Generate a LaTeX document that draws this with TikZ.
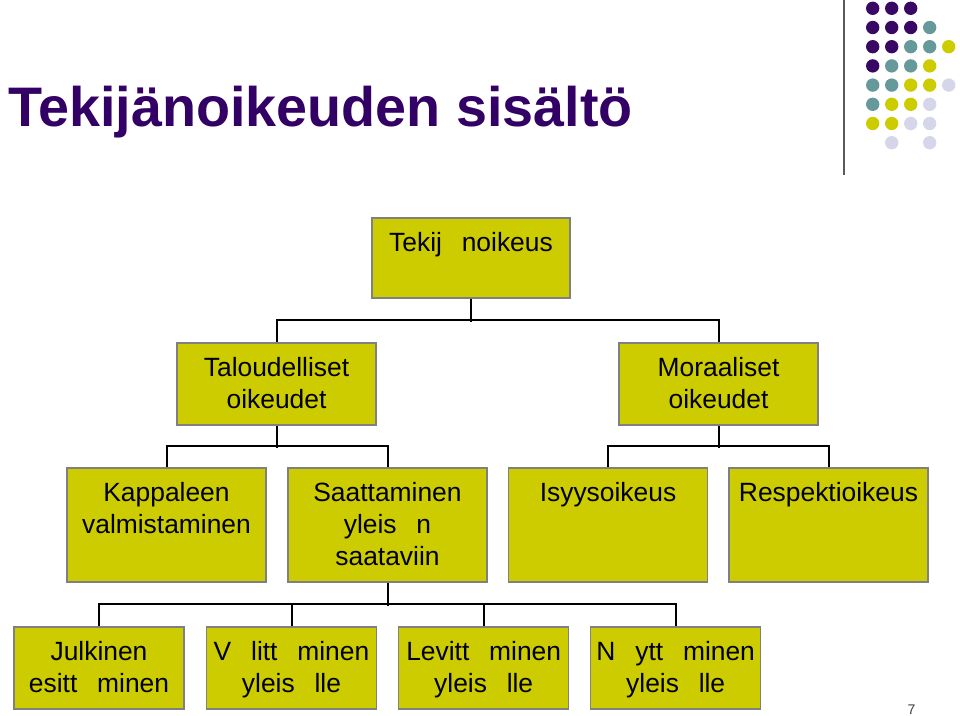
\documentclass[tikz,border=0pt]{standalone}
\usepackage{fontspec}
\setmainfont{Liberation Sans}
\definecolor{boxyellow}{RGB}{204,204,0}
\definecolor{bordergray}{RGB}{128,128,128}
\definecolor{titlepurple}{RGB}{51,0,102}
\definecolor{dotpurple}{RGB}{56,8,100}
\definecolor{dotteal}{RGB}{102,153,153}
\definecolor{dotyellow}{RGB}{204,204,0}
\definecolor{dotlav}{RGB}{214,214,234}
\definecolor{rulegray}{RGB}{90,90,90}
\definecolor{pagegray}{RGB}{64,64,64}
\newcommand{\mystrut}{\rule{0pt}{15pt}}
\newcommand{\gp}{\hspace{0.75em}}
\begin{document}
\begin{tikzpicture}[x=0.75pt,y=-0.75pt,
  box/.style={draw=bordergray, fill=boxyellow, line width=1.1pt, inner sep=0pt,
              minimum width=149.25pt, minimum height=61.5pt},
  tallbox/.style={box, minimum height=85.5pt},
  smallbox/.style={box, minimum width=127.5pt},
  topbox/.style={box, minimum width=148.5pt, minimum height=60pt},
  txt/.style={anchor=north, inner sep=0pt, align=center,
              font=\fontsize{19.8}{24.2}\selectfont},
  conn/.style={draw=black, line width=1.5pt},
  dot/.style={radius=5pt}]

\fill[white] (0,0) rectangle (960,716);
\useasboundingbox (0,0) rectangle (960,716);

% title
\node[anchor=base west, inner sep=0pt, text=titlepurple,
      font=\bfseries\fontsize{41.8}{48}\selectfont] (title) at (8,126.7) {Tekijänoikeuden sisältö};

% decoration top right
\draw[line width=1.5pt, rulegray] (844,0) -- (844,175);
\foreach \c/\r/\col in {
  0/0/dotpurple, 1/0/dotpurple, 2/0/dotpurple,
  0/1/dotpurple, 1/1/dotpurple, 2/1/dotpurple, 3/1/dotteal,
  0/2/dotpurple, 1/2/dotpurple, 2/2/dotteal, 3/2/dotteal, 4/2/dotyellow,
  0/3/dotpurple, 1/3/dotteal, 2/3/dotteal, 3/3/dotyellow,
  0/4/dotteal, 1/4/dotteal, 2/4/dotyellow, 3/4/dotyellow, 4/4/dotlav,
  0/5/dotteal, 1/5/dotyellow, 2/5/dotyellow, 3/5/dotlav,
  0/6/dotyellow, 1/6/dotyellow, 2/6/dotlav, 3/6/dotlav,
  1/7/dotlav, 3/7/dotlav}
  \fill[\col] (872.7+19*\c, 8.3+19.2*\r) circle[dot];

% boxes
\node[topbox] (t) at (471,258) {};
\node[box] (tal) at (276.5,384) {};
\node[box] (mor) at (718.5,384) {};
\node[tallbox] (kap) at (166.5,525) {};
\node[tallbox] (saa) at (387.5,525) {};
\node[tallbox] (isy) at (608,525) {};
\node[tallbox] (res) at (828.5,525) {};
\node[smallbox] (jul) at (99,668) {};
\node[smallbox] (val) at (291.5,668) {};
\node[smallbox] (lev) at (483.7,668) {};
\node[smallbox] (nay) at (675.7,668) {};

% texts
\node[txt] (tt) at ([yshift=-10.3pt]t.north) {\mystrut Tekij\gp noikeus};
\node[txt] (talt) at ([yshift=-10.3pt]tal.north) {\mystrut Taloudelliset\\oikeudet};
\node[txt] (mort) at ([yshift=-10.3pt]mor.north) {\mystrut Moraaliset\\oikeudet};
\node[txt] (kapt) at ([yshift=-10.3pt]kap.north) {\mystrut Kappaleen\\valmistaminen};
\node[txt] (saat) at ([yshift=-10.3pt]saa.north) {\mystrut Saattaminen\\yleis\gp n\\saataviin};
\node[txt] (isyt) at ([yshift=-10.3pt]isy.north) {\mystrut Isyysoikeus};
\node[txt] (rest) at ([yshift=-10.3pt]res.north) {\mystrut Respektioikeus};
\node[txt] (jult) at ([yshift=-10.3pt]jul.north) {\mystrut Julkinen\\esitt\gp minen};
\node[txt] (valt) at ([yshift=-10.3pt]val.north) {\mystrut V\gp litt\gp minen\\yleis\gp lle};
\node[txt] (levt) at ([yshift=-10.3pt]lev.north) {\mystrut Levitt\gp minen\\yleis\gp lle};
\node[txt] (nayt) at ([yshift=-10.3pt]nay.north) {\mystrut N\gp ytt\gp minen\\yleis\gp lle};

% connectors
\draw[conn] (t.south) -- ++(0,23);
\draw[conn] (tal.north) -- ++(0,-22) -| (mor.north);
\draw[conn] (tal.south) -- ++(0,22);
\draw[conn] (kap.north) -- ++(0,-21) -| (saa.north);
\draw[conn] (mor.south) -- ++(0,22);
\draw[conn] (isy.north) -- ++(0,-21) -| (res.north);
\draw[conn] (saa.south) -- ++(0,23);
\draw[conn] (jul.north) -- ++(0,-22) -| (nay.north);
\draw[conn] (val.north) -- ++(0,-22);
\draw[conn] (lev.north) -- ++(0,-22);

% page number
\node[inner sep=0pt, text=pagegray, font=\fontsize{10.5}{12}\selectfont] (pg) at (911.5,710) {7};
\end{tikzpicture}
\end{document}
